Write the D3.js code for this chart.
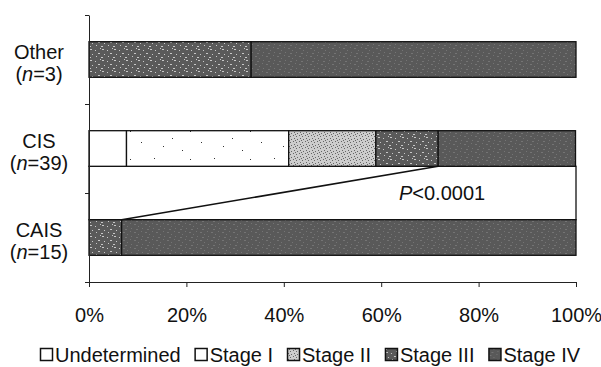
<!DOCTYPE html>
<html>
<head>
<meta charset="utf-8">
<script src="https://cdn.jsdelivr.net/npm/d3@7"></script>
<style>
  body { margin: 0; background: #fff; }
  svg { display: block; font-family: Arial, 'Liberation Sans', sans-serif; }
  .axis path, .axis line { stroke: #222; }
  .label { font-size: 20px; fill: #111; }
</style>
</head>
<body>
<svg width="601" height="367"></svg>
<script>
// chart data (percent of each group)
const categories = ['Other', 'CIS', 'CAIS']
const groupSizes = [3, 39, 15]
const stages = ['Undetermined', 'Stage I', 'Stage II', 'Stage III', 'Stage IV']
const undetermined = [0, 7.7, 0]
const stageI = [0, 33.3, 0]
const stageII = [0, 17.9, 0]
const stageIII = [33.3, 12.8, 6.7]
const stageIV = [66.7, 28.2, 93.3]
const xTicks = [0, 20, 40, 60, 80, 100]
const pLabel = '<0.0001'

const svg = d3.select('svg')
const margin = {top: 15, right: 25, bottom: 85, left: 89}
const width = 601 - margin.left - margin.right,
height = 367 - margin.top - margin.bottom

// build rows for the stack
const rows = categories.map((c, i) => ({
  category: c,
  'Undetermined': undetermined[i],
  'Stage I': stageI[i],
  'Stage II': stageII[i],
  'Stage III': stageIII[i],
  'Stage IV': stageIV[i]
}))
const series = d3.stack().keys(stages)(rows)

const x = d3.scaleLinear().domain([0, 100]).range([0, width])
const y = d3.scaleBand().domain(categories).range([0, height]).paddingInner(0.6).paddingOuter(0.3)
const yEdges = d3.scaleLinear().domain([0, categories.length]).range([height, 0])

// textures for the stage fills
const defs = svg.append('defs')

const dots = (id, bg, color, pts, w, h) => {
  const p = defs.append('pattern')
  .attr('id', id)
  .attr('patternUnits', 'userSpaceOnUse')
  .attr('width', w)
  .attr('height', h)
  p.append('rect').attr('width', w).attr('height', h).attr('fill', bg)
  p.selectAll('rect.d')
  .data(pts)
  .enter()
  .append('rect')
  .attr('class', 'd')
  .attr('x', d => d[0])
  .attr('y', d => d[1])
  .attr('width', d => d[2] || 1)
  .attr('height', 1)
  .attr('fill', color)
}

dots('stage1', '#fff', '#333', [[5, 3], [23, 11], [41, 4], [14, 19], [33, 23], [52, 15]], 60, 28)
dots('stage2', '#cdcdcd', '#666', [[0, 0], [3, 1], [1, 3], [4, 4], [2, 5]], 6, 6)
dots('stage3', '#5a5a5a', '#c8c8c8', [[1, 1, 2], [6, 2], [9, 5, 2], [3, 6], [7, 8], [0, 9, 2], [11, 0]], 12, 11)
dots('stage4', '#595959', '#747474', [[1, 1, 2], [5, 3], [8, 0], [3, 6, 2], [9, 5]], 11, 8)

const fills = {
  'Undetermined': '#fff',
  'Stage I': 'url(#stage1)',
  'Stage II': 'url(#stage2)',
  'Stage III': 'url(#stage3)',
  'Stage IV': 'url(#stage4)'
}

const g = svg
.append('g')
.attr('transform', `translate(${margin.left}, ${margin.top})`)

// box joining CIS and CAIS for the comparison
g
.append('rect')
.attr('x', 0)
.attr('y', y('CIS') + y.bandwidth())
.attr('width', x(100))
.attr('height', y('CAIS') - y('CIS') - y.bandwidth())
.attr('fill', 'none')
.attr('stroke', '#111')
.attr('stroke-width', 1.3)

// stacked bars
g
.selectAll('.layer')
.data(series)
.enter()
.append('g')
.attr('class', 'layer')
.attr('fill', d => fills[d.key])
.selectAll('rect')
.data(d => d.filter(s => s[1] - s[0] > 0))
.enter()
.append('rect')
.attr('x', d => x(d[0]))
.attr('y', d => y(d.data.category))
.attr('width', d => x(d[1]) - x(d[0]))
.attr('height', y.bandwidth())
.attr('stroke', '#111')
.attr('stroke-width', 1.3)

// line between the Stage IV starts of CAIS and CIS
const ivStart = series[stages.indexOf('Stage IV')]
g
.append('line')
.attr('x1', x(ivStart[categories.indexOf('CAIS')][0]))
.attr('y1', y('CAIS'))
.attr('x2', x(ivStart[categories.indexOf('CIS')][0]))
.attr('y2', y('CIS') + y.bandwidth())
.attr('stroke', '#111')
.attr('stroke-width', 1.6)

const pText = g
.append('text')
.attr('class', 'label')
.attr('x', x(72.5))
.attr('y', (y('CIS') + y.bandwidth() + y('CAIS')) / 2 + 7)
.attr('text-anchor', 'middle')
pText.append('tspan').attr('font-style', 'italic').text('P')
pText.append('tspan').text(pLabel)

// axes
g
.append('g')
.attr('class', 'axis')
.attr('transform', `translate(0, ${height})`)
.call(d3.axisBottom(x).tickValues(xTicks).tickSize(5).tickSizeOuter(0).tickFormat(d => d + '%'))
.call(a => a.selectAll('text').attr('class', 'label').attr('dy', '1.6em'))

g
.append('g')
.attr('class', 'axis')
.call(d3.axisLeft(yEdges).tickValues([0, 1, 2, 3]).tickSize(4).tickSizeOuter(0).tickFormat(''))

svg.selectAll('.axis').attr('font-family', null).attr('font-size', null)

// category labels, two lines each
const catLabels = g
.selectAll('.cat')
.data(categories)
.enter()
.append('text')
.attr('class', 'label cat')
.attr('text-anchor', 'middle')

catLabels
.append('tspan')
.attr('x', 39 - margin.left)
.attr('y', d => y(d) + y.bandwidth() / 2 - 1)
.text(d => d)

const nLine = catLabels
.append('tspan')
.attr('x', 39 - margin.left)
.attr('y', d => y(d) + y.bandwidth() / 2 + 21)

nLine.append('tspan').text('(')
nLine.append('tspan').attr('font-style', 'italic').text('n')
nLine.append('tspan').text((d, i) => '=' + groupSizes[i] + ')')

// legend along the bottom
const legend = svg.append('g').attr('transform', 'translate(40, 362)')
let lx = 0
stages.forEach(s => {
  const item = legend.append('g').attr('transform', `translate(${lx}, 0)`)
  item
  .append('rect')
  .attr('x', 0.5)
  .attr('y', -13.5)
  .attr('width', 12)
  .attr('height', 12)
  .attr('fill', s === 'Stage I' ? '#fff' : fills[s])
  .attr('stroke', '#111')
  .attr('stroke-width', 1.5)
  const t = item
  .append('text')
  .attr('class', 'label')
  .attr('x', 15)
  .text(s)
  lx += 15 + t.node().getComputedTextLength() + 14
})
</script>
</body>
</html>
